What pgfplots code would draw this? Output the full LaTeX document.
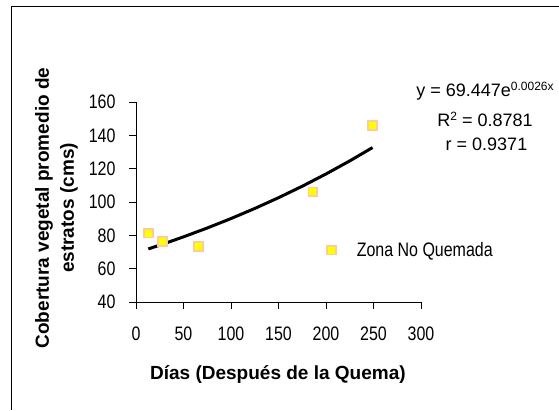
\documentclass[border=0pt]{standalone}
\usepackage{fontspec}
\usepackage{pgfplots}
\pgfplotsset{compat=1.18}
\setmainfont{Liberation Sans}
\newfontfamily\narrowfont[FakeStretch=0.82]{Liberation Sans}
\definecolor{markfill}{HTML}{FFFF00}
\definecolor{markedge}{HTML}{FFCC99}

% scatter data: days after burning vs. mean stratum cover
\pgfplotstableread{
dias cobertura
13    81.4
28    76.3
65.5  73.4
186.3 106.1
249.2 146.0
}\datos

% exponential trend line y = 69.447 e^{0.0026x}, tabulated
\pgfplotstableread{
x    y
13   71.83
30   75.08
50   79.09
75   84.40
100  90.07
125  96.12
150  102.57
175  109.46
200  116.81
225  124.66
249  132.67
}\tendencia

\begin{document}
\begin{tikzpicture}[x=1pt,y=1pt]
\useasboundingbox (0,0) rectangle (559,410);
% chart area frame (left and top edges)
\draw[line width=1pt] (11,0) -- (11,403) -- (559,403);
\begin{axis}[
  at={(136pt,108pt)}, anchor=south west,
  scale only axis, width=285pt, height=200pt,
  xmin=0, xmax=300, ymin=40, ymax=160,
  xtick={0,50,...,300}, ytick={40,60,...,160},
  axis x line*=bottom, axis y line*=left,
  axis line style={line width=0.8pt},
  tick align=outside, major tick length=7pt,
  tick style={line width=0.8pt, black},
  /pgf/number format/assume math mode=true,
  ticklabel style={font=\narrowfont\fontsize{19.5}{22}\selectfont},
  xticklabel style={yshift=-14pt},
  yticklabel style={xshift=-10pt},
  xlabel={Días (Después de la Quema)},
  xlabel style={font=\bfseries\fontsize{19}{22}\selectfont,
    at={(axis description cs:0.498,-0.385)}, anchor=base},
  ylabel={Cobertura vegetal promedio de\\estratos (cms)},
  ylabel style={font=\bfseries\fontsize{19}{25}\selectfont, align=center,
    at={(axis description cs:-0.279,0.47)}, anchor=center},
  legend style={draw=none, fill=none, at={(axis cs:197,71.2)}, anchor=west,
    font=\narrowfont\fontsize{19.5}{22}\selectfont},
  legend image code/.code={\draw[#1] plot coordinates {(0pt,0pt)}; \path (-5pt,0pt) (23pt,0pt);},
]
\addplot[black, line width=3pt, forget plot] table[x=x, y=y] {\tendencia};
\addplot[only marks, mark=square*, mark size=4.4pt,
  mark options={fill=markfill, draw=markedge, line width=1.8pt}]
  table[x=dias, y=cobertura] {\datos};
\addlegendentry{Zona No Quemada}
\end{axis}
% trend line equation and fit statistics
\node[anchor=base, font=\fontsize{18}{22}\selectfont] at (485,313)
  {y = 69.447e\raisebox{6.5pt}{\fontsize{12}{12}\selectfont 0.0026x}};
\node[anchor=base, font=\fontsize{18}{22}\selectfont] at (485,283.5)
  {R\raisebox{6pt}{\fontsize{12}{12}\selectfont 2} = 0.8781};
\node[anchor=base, font=\fontsize{18}{22}\selectfont] at (486.5,259.5)
  {r = 0.9371};
\end{tikzpicture}
\end{document}
